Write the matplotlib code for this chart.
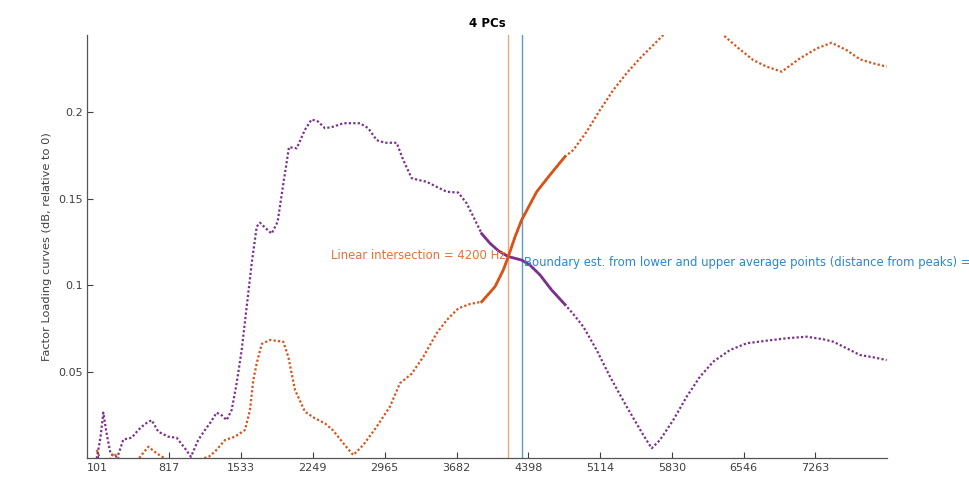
import numpy as np
import matplotlib
matplotlib.use("Agg")
import matplotlib.pyplot as plt

# factor loading curves for the first two PCs (Hz, loading)
pc_a_hz = [93, 130, 159, 190, 230, 258, 300, 330, 358, 442, 508, 575, 641, 707, 807, 890,
           973, 1033, 1106, 1173, 1230, 1289, 1340, 1389, 1439, 1489, 1539, 1589, 1639, 1689,
           1722, 1780, 1838, 1898, 1955, 2011, 2088, 2170, 2237, 2303, 2370, 2453, 2553, 2719,
           2802, 2886, 2969, 3085, 3151, 3235, 3301, 3384, 3484, 3584, 3700, 3783, 3850, 3933,
           4016, 4099, 4199, 4332, 4415, 4515, 4631, 4764, 4847, 4947, 5080, 5213, 5379, 5545,
           5629, 5712, 5845, 5978, 6111, 6244, 6410, 6577, 6776, 6976, 7175, 7341, 7441, 7574,
           7707, 7840, 7973]
pc_a_val = [0.0, 0.012, 0.0265, 0.015, 0.003, 0.0015, 0.001, 0.006, 0.011, 0.012, 0.0165,
            0.020, 0.0222, 0.0155, 0.0126, 0.012, 0.0059, 0.001, 0.0107, 0.0165, 0.021, 0.0265,
            0.025, 0.0222, 0.028, 0.0435, 0.0627, 0.0877, 0.1128, 0.134, 0.1363, 0.133, 0.130,
            0.1369, 0.159, 0.180, 0.1793, 0.190, 0.196, 0.1947, 0.1909, 0.1918, 0.1938, 0.1938,
            0.1909, 0.184, 0.1825, 0.1825, 0.1725, 0.162, 0.161, 0.160, 0.157, 0.1542, 0.1537,
            0.1475, 0.1398, 0.130, 0.1244, 0.1201, 0.1167, 0.1147, 0.1118, 0.1061, 0.0974,
            0.0890, 0.0835, 0.0762, 0.0627, 0.0473, 0.030, 0.0136, 0.0059, 0.0107, 0.0223,
            0.0357, 0.0473, 0.056, 0.0627, 0.0666, 0.0681, 0.0695, 0.0704, 0.0689, 0.0675,
            0.0637, 0.0598, 0.0585, 0.0569]

pc_b_hz = [93, 126, 170, 230, 258, 300, 340, 420, 500, 540, 608, 691, 774, 850, 960, 1005,
           1060, 1150, 1210, 1273, 1373, 1472, 1572, 1622, 1655, 1689, 1739, 1821, 1954, 2004,
           2071, 2171, 2270, 2370, 2453, 2553, 2652, 2752, 2886, 3018, 3118, 3235, 3351, 3484,
           3584, 3700, 3817, 3933, 4066, 4149, 4199, 4265, 4332, 4482, 4614, 4764, 4847, 4980,
           5113, 5246, 5379, 5512, 5645, 5745, 5900, 6050, 6200, 6343, 6477, 6642, 6776, 6926,
           7108, 7275, 7424, 7574, 7707, 7840, 7973]
pc_b_val = [0.005, 0.0, -0.006, 0.0, 0.003, 0.001, -0.002, -0.006, -0.001, 0.002, 0.0068,
            0.003, 0.0, -0.008, -0.006, 0.0, -0.003, 0.0, 0.001, 0.004, 0.0107, 0.0126, 0.0165,
            0.028, 0.0454, 0.055, 0.0662, 0.0685, 0.0675, 0.0588, 0.0396, 0.027, 0.0232, 0.0203,
            0.0161, 0.0088, 0.002, 0.0078, 0.0184, 0.030, 0.0435, 0.049, 0.0588, 0.0724, 0.080,
            0.0868, 0.0893, 0.0906, 0.0993, 0.109, 0.1167, 0.128, 0.1379, 0.1542, 0.1639,
            0.1745, 0.1783, 0.1889, 0.2014, 0.213, 0.2227, 0.2313, 0.239, 0.2448, 0.252, 0.256,
            0.252, 0.2448, 0.238, 0.2303, 0.2265, 0.2236, 0.2313, 0.237, 0.2403, 0.236, 0.2307,
            0.2284, 0.2265]

# window used for the linear fit around the crossing
fit_lo, fit_hi = 3933, 4764
intersect_hz = 4200
boundary_hz = 4332

xtick_vals = [101, 817, 1533, 2249, 2965, 3682, 4398, 5114, 5830, 6546, 7263]
ytick_vals = [0.05, 0.1, 0.15, 0.2]
ytick_labels = ["0.05", "0.1", "0.15", "0.2"]

purple = "#7E2F8E"
orange = "#D95319"
grey = "#404040"

plt.rcParams["font.family"] = "DejaVu Sans"
fig = plt.figure(figsize=(9.7, 4.8), dpi=100)
ax = fig.add_axes([0.0901, 0.0448, 0.8247, 0.8823])

ha = np.array(pc_a_hz); va = np.array(pc_a_val)
hb = np.array(pc_b_hz); vb = np.array(pc_b_val)

ax.axvline(intersect_hz, color="#F0A47E", lw=1.0)
ax.axvline(boundary_hz, color="#5A9BD5", lw=1.0)

ax.plot(ha, va, color=purple, lw=1.6, dashes=(1, 1))
ax.plot(hb, vb, color=orange, lw=1.6, dashes=(1, 1))
ma = (ha >= fit_lo) & (ha <= fit_hi)
mb = (hb >= fit_lo) & (hb <= fit_hi)
ax.plot(ha[ma], va[ma], color=purple, lw=2.0)
ax.plot(hb[mb], vb[mb], color=orange, lw=2.0)

ax.text(intersect_hz - 30, 0.1175, f"Linear intersection = {intersect_hz} Hz",
        color="#E8703A", fontsize=8.4, ha="right", va="center")
ax.text(boundary_hz + 20, 0.1135,
        f"Boundary est. from lower and upper average points (distance from peaks) = {boundary_hz} Hz",
        color="#2E86CB", fontsize=8.4, ha="left", va="center", clip_on=False)

ax.set_xlim(0, 7980)
ax.set_ylim(0, 0.2448)
ax.set_xticks(xtick_vals)
ax.set_yticks(ytick_vals)
ax.set_yticklabels(ytick_labels)
ax.tick_params(direction="in", length=4, width=0.8, colors=grey, labelsize=8)
for s in ["top", "right"]:
    ax.spines[s].set_visible(False)
for s in ["left", "bottom"]:
    ax.spines[s].set_color("#555555")
    ax.spines[s].set_linewidth(0.9)

ax.set_title("4 PCs", fontsize=8.5, fontweight="bold", pad=6)
ax.set_ylabel("Factor Loading curves (dB, relative to 0)", fontsize=8.2, color=grey)
ax.set_xlabel("Frequency (Hz)", fontsize=8.2, color=grey)
ax.xaxis.set_label_coords(0.5, -0.0535)

fig.savefig("out.png", dpi=100)
